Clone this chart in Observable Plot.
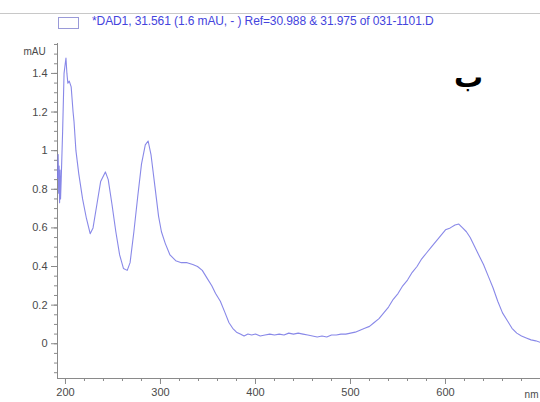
<!DOCTYPE html>
<html>
<head>
<meta charset="utf-8">
<script src="https://cdn.jsdelivr.net/npm/d3@7"></script>
<script src="https://cdn.jsdelivr.net/npm/@observablehq/plot@0.6"></script>
<style>
  body { margin: 0; background: #fff; width: 540px; height: 402px; overflow: hidden; position: relative; font-family: "Liberation Sans", Arial, sans-serif; }
  #header { position: relative; height: 30px; }
  #topline { position: absolute; left: 0; top: 13px; width: 540px; height: 1px; background: #c8c8c8; }
  #box { position: absolute; left: 58px; top: 17px; width: 19px; height: 10px; border: 1px solid #9a9ad8; }
  #legend { position: absolute; left: 92px; top: 14px; font-size: 12px; color: #4444dd; white-space: nowrap; letter-spacing: -0.1px; }
  #ba { position: absolute; left: 454px; top: 60px; font-size: 29px; font-weight: bold; color: #000; font-family: "DejaVu Sans", sans-serif; }
  #chart { position: absolute; left: 0; top: 30px; }
</style>
</head>
<body>
<div id="header"><div id="topline"></div><div id="box"></div><div id="legend"></div></div>
<div id="chart"></div>
<div id="ba"></div>
<script>
const legendText = "*DAD1, 31.561 (1.6 mAU, - ) Ref=30.988 & 31.975 of 031-1101.D";
const annotation = "ب";
const yUnit = "mAU";
const xUnit = "nm";

const wavelength = [191.6,192.3,192.8,193.3,193.8,194.3,194.8,195.5,197,198.5,200.5,201.5,202.5,204,206,208,209,211,214,218,222,226,229,233,237,242,245,249,253,257,261,265,268,272,276,280,284,287,290,294,298,301,305,310,316,322,328,334,339,344,349,354,358,363,368,372,376,380,384,388,392,396,400,405,410,415,420,425,430,435,440,445,450,455,460,465,470,475,480,485,490,495,500,505,510,515,520,525,530,535,540,545,550,555,560,565,570,575,580,585,590,595,600,605,610,614,618,622,626,630,635,640,645,650,655,660,665,670,675,680,685,690,695,700];
const absorbance = [0.86,0.98,0.78,0.92,0.73,0.9,0.75,0.85,1.1,1.4,1.48,1.4,1.35,1.36,1.33,1.2,1.15,1.0,0.88,0.75,0.65,0.57,0.6,0.72,0.84,0.89,0.85,0.72,0.58,0.46,0.39,0.38,0.42,0.58,0.76,0.93,1.03,1.05,0.98,0.82,0.66,0.58,0.52,0.46,0.43,0.42,0.42,0.41,0.4,0.38,0.34,0.3,0.26,0.22,0.16,0.11,0.08,0.06,0.05,0.04,0.05,0.045,0.05,0.04,0.045,0.05,0.045,0.05,0.045,0.055,0.05,0.055,0.05,0.045,0.04,0.035,0.04,0.035,0.045,0.045,0.05,0.05,0.055,0.06,0.07,0.08,0.09,0.11,0.13,0.16,0.19,0.23,0.26,0.3,0.33,0.37,0.4,0.44,0.47,0.5,0.53,0.56,0.59,0.6,0.615,0.62,0.6,0.58,0.55,0.51,0.46,0.41,0.35,0.29,0.22,0.16,0.12,0.08,0.055,0.04,0.03,0.02,0.015,0.007];

const xMajor = [200,300,400,500,600];
const xMinor = d3.range(200, 701, 20);
const yMajor = [0,0.2,0.4,0.6,0.8,1,1.2,1.4];
const yMinor = d3.range(-0.15, 1.56, 0.05).map(v => +v.toFixed(2));

document.getElementById("legend").textContent = legendText;
document.getElementById("ba").textContent = annotation;

const data = wavelength.map((w, i) => ({w, a: absorbance[i]}));
const axisColor = "#8a8a8a";
const textColor = "#4a4a4a";

const plot = Plot.plot({
  width: 540,
  height: 372,
  marginLeft: 57,
  marginRight: 0,
  marginTop: 13,
  marginBottom: 24,
  style: {fontFamily: "Liberation Sans, Arial, sans-serif", fontSize: "11px", color: textColor},
  x: {domain: [191.6, 700]},
  y: {domain: [-0.18, 1.555]},
  marks: [
    Plot.axisX({ticks: xMinor, tickSize: 3, text: null, stroke: axisColor, label: null}),
    Plot.axisX({ticks: xMajor, tickSize: 6, tickPadding: 4, stroke: axisColor, fill: textColor, label: null, tickFormat: d => String(d)}),
    Plot.axisY({ticks: yMinor, tickSize: 3, text: null, stroke: axisColor, label: null}),
    Plot.axisY({ticks: yMajor, tickSize: 6, tickPadding: 4, stroke: axisColor, fill: textColor, label: null, tickFormat: d => String(+d.toFixed(1))}),
    Plot.frame({anchor: "left", stroke: axisColor}),
    Plot.frame({anchor: "bottom", stroke: axisColor}),
    Plot.text([yUnit], {frameAnchor: "top-left", text: d => d, dx: -34, dy: 4, textAnchor: "start", fill: textColor, fontSize: 10}),
    Plot.text([xUnit], {frameAnchor: "bottom-right", text: d => d, dx: -2, dy: 19, textAnchor: "end", fill: textColor, fontSize: 10}),
    Plot.line(data, {x: "w", y: "a", stroke: "#7b7be6", strokeWidth: 1.1, strokeOpacity: 0.9})
  ]
});
document.getElementById("chart").appendChild(plot);
</script>
</body>
</html>
